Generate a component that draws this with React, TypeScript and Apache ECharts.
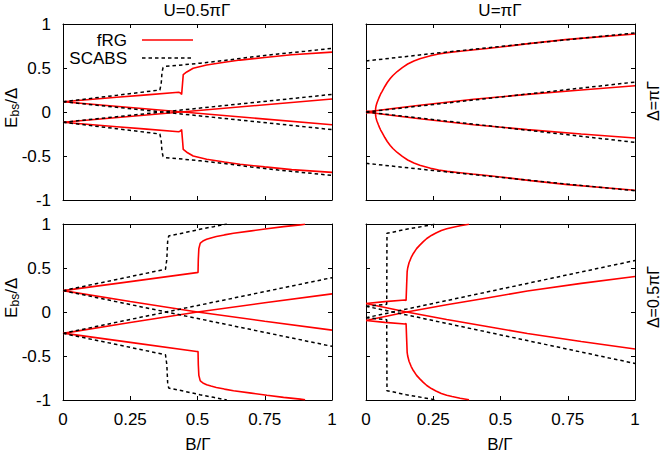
import React, { useEffect, useRef } from "react";
import * as echarts from "echarts";

type Pt = [number, number];

// ---- axes / labels ----
const xTicks = [0, 0.25, 0.5, 0.75, 1];
const yTicks = [-1, -0.5, 0, 0.5, 1];
const colTitles = ["U=0.5πΓ", "U=πΓ"];
const rowLabels = ["Δ=πΓ", "Δ=0.5πΓ"];
const legendNames = ["fRG", "SCABS"];

// ---- Panel A: U=0.5πΓ, Δ=πΓ ----
const A_fRG_outerUp: Pt[] = [[0,0.117],[0.1,0.142],[0.2,0.167],[0.3,0.192],[0.43,0.224],[0.437,0.215],[0.441,0.2],[0.444,0.31],[0.447,0.425],[0.46,0.455],[0.484,0.497],[0.534,0.534],[0.6,0.565],[0.658,0.59],[0.75,0.62],[0.85,0.65],[1,0.68]];
const A_fRG_outerLo: Pt[] = [[0,-0.117],[0.1,-0.142],[0.2,-0.167],[0.3,-0.192],[0.43,-0.224],[0.437,-0.215],[0.441,-0.2],[0.444,-0.31],[0.447,-0.425],[0.46,-0.457],[0.484,-0.5],[0.534,-0.537],[0.6,-0.568],[0.658,-0.593],[0.75,-0.624],[0.85,-0.655],[1,-0.686]];
const A_fRG_innerA: Pt[] = [[0,0.117],[1,-0.145]];
const A_fRG_innerB: Pt[] = [[0,-0.117],[1,0.148]];
const A_SCABS_outerUp: Pt[] = [[0,0.117],[0.2,0.19],[0.36,0.25],[0.365,0.32],[0.368,0.45],[0.372,0.505],[0.38,0.518],[0.45,0.537],[0.51,0.555],[0.6,0.585],[0.7,0.625],[0.8,0.66],[0.9,0.69],[1,0.723]];
const A_SCABS_outerLo: Pt[] = [[0,-0.117],[0.2,-0.19],[0.36,-0.25],[0.365,-0.32],[0.368,-0.45],[0.372,-0.505],[0.38,-0.518],[0.45,-0.537],[0.51,-0.555],[0.6,-0.585],[0.7,-0.625],[0.8,-0.66],[0.9,-0.69],[1,-0.72]];
const A_SCABS_innerA: Pt[] = [[0,0.117],[1,-0.2]];
const A_SCABS_innerB: Pt[] = [[0,-0.117],[1,0.2]];

// ---- Panel B: U=πΓ, Δ=πΓ ----
const B_fRG_outerUp: Pt[] = [[0,0.01],[0.035,0],[0.0355,0.025],[0.036,0.045],[0.037,0.062],[0.038,0.075],[0.04,0.096],[0.042,0.114],[0.046,0.145],[0.05,0.175],[0.0545,0.205],[0.06,0.235],[0.07,0.29],[0.079,0.335],[0.09,0.38],[0.1,0.415],[0.116,0.46],[0.135,0.505],[0.155,0.545],[0.178,0.58],[0.2,0.605],[0.24,0.64],[0.27,0.66],[0.302,0.675],[0.35,0.69],[0.395,0.705],[0.45,0.722],[0.5,0.738],[0.612,0.78],[0.75,0.825],[0.9,0.862],[1,0.886]];
const B_fRG_outerLo: Pt[] = [[0,-0.01],[0.035,0],[0.0355,-0.025],[0.036,-0.045],[0.037,-0.062],[0.038,-0.075],[0.04,-0.096],[0.042,-0.114],[0.046,-0.145],[0.05,-0.175],[0.0545,-0.205],[0.06,-0.235],[0.07,-0.29],[0.079,-0.335],[0.09,-0.38],[0.1,-0.415],[0.116,-0.46],[0.135,-0.505],[0.155,-0.545],[0.178,-0.58],[0.2,-0.605],[0.24,-0.64],[0.27,-0.66],[0.302,-0.675],[0.35,-0.69],[0.395,-0.705],[0.45,-0.722],[0.5,-0.738],[0.612,-0.78],[0.75,-0.825],[0.9,-0.864],[1,-0.89]];
const B_fRG_innerA: Pt[] = [[0,0],[0.1,0.04],[0.2,0.076],[0.4,0.145],[0.6,0.2],[0.8,0.25],[1,0.298]];
const B_fRG_innerB: Pt[] = [[0,0],[0.1,-0.04],[0.2,-0.076],[0.4,-0.145],[0.6,-0.2],[0.8,-0.25],[1,-0.296]];
const B_SCABS_outerUp: Pt[] = [[0,0.58],[0.25,0.665],[0.5,0.745],[0.75,0.822],[1,0.898]];
const B_SCABS_outerLo: Pt[] = [[0,-0.583],[0.25,-0.665],[0.5,-0.743],[0.75,-0.82],[1,-0.894]];
const B_SCABS_innerA: Pt[] = [[0,0],[1,0.34]];
const B_SCABS_innerB: Pt[] = [[0,0],[1,-0.345]];

// ---- Panel C: U=0.5πΓ, Δ=0.5πΓ ----
const C_fRG_outerUp: Pt[] = [[0,0.243],[0.25,0.345],[0.497,0.447],[0.502,0.45],[0.503,0.6],[0.505,0.72],[0.51,0.78],[0.515,0.795],[0.52,0.806],[0.534,0.826],[0.55,0.842],[0.57,0.857],[0.6,0.876],[0.634,0.894],[0.7,0.922],[0.758,0.946],[0.82,0.97],[0.882,0.99],[0.9,0.997]];
const C_fRG_outerLo: Pt[] = [[0,-0.24],[0.25,-0.345],[0.497,-0.448],[0.502,-0.45],[0.503,-0.6],[0.505,-0.72],[0.51,-0.78],[0.515,-0.795],[0.52,-0.806],[0.534,-0.826],[0.55,-0.842],[0.57,-0.857],[0.6,-0.876],[0.634,-0.894],[0.7,-0.922],[0.758,-0.946],[0.82,-0.97],[0.882,-0.99],[0.9,-0.997]];
const C_fRG_innerA: Pt[] = [[0,0.243],[0.25,0.12],[0.5,0.0],[0.75,-0.105],[1,-0.206]];
const C_fRG_innerB: Pt[] = [[0,-0.243],[0.25,-0.12],[0.5,0.0],[0.75,0.105],[1,0.206]];
const C_SCABS_outerUp: Pt[] = [[0,0.243],[0.2,0.37],[0.381,0.486],[0.386,0.6],[0.389,0.8],[0.393,0.864],[0.45,0.9],[0.509,0.94],[0.56,0.97],[0.609,1.0]];
const C_SCABS_outerLo: Pt[] = [[0,-0.243],[0.2,-0.37],[0.381,-0.486],[0.386,-0.6],[0.389,-0.8],[0.393,-0.864],[0.45,-0.9],[0.509,-0.94],[0.56,-0.97],[0.609,-1.0]];
const C_SCABS_innerA: Pt[] = [[0,0.243],[1,-0.39]];
const C_SCABS_innerB: Pt[] = [[0,-0.243],[1,0.39]];

// ---- Panel D: U=πΓ, Δ=0.5πΓ ----
const D_fRG_outerUp: Pt[] = [[0,0.097],[0.07,0.118],[0.145,0.136],[0.149,0.13],[0.151,0.3],[0.153,0.458],[0.155,0.5],[0.16,0.56],[0.168,0.62],[0.176,0.665],[0.188,0.72],[0.2,0.76],[0.213,0.8],[0.226,0.835],[0.243,0.87],[0.26,0.897],[0.28,0.925],[0.3,0.945],[0.32,0.96],[0.35,0.98],[0.383,0.997]];
const D_fRG_outerLo: Pt[] = [[0,-0.097],[0.07,-0.118],[0.145,-0.136],[0.149,-0.13],[0.151,-0.3],[0.153,-0.458],[0.155,-0.5],[0.16,-0.56],[0.168,-0.62],[0.176,-0.665],[0.188,-0.72],[0.2,-0.76],[0.213,-0.8],[0.226,-0.835],[0.243,-0.87],[0.26,-0.897],[0.28,-0.925],[0.3,-0.945],[0.32,-0.96],[0.35,-0.98],[0.383,-0.997]];
const D_fRG_innerA: Pt[] = [[0,0.097],[0.151,0],[0.3,-0.085],[0.45,-0.165],[0.6,-0.245],[0.8,-0.335],[1,-0.42]];
const D_fRG_innerB: Pt[] = [[0,-0.097],[0.151,0],[0.3,0.083],[0.45,0.16],[0.6,0.238],[0.8,0.325],[1,0.403]];
const D_SCABS_outerUp: Pt[] = [[0,0.065],[0.077,0.088],[0.0775,0.5],[0.078,0.894],[0.15,0.94],[0.244,0.99],[0.26,1.0]];
const D_SCABS_outerLo: Pt[] = [[0,-0.065],[0.077,-0.088],[0.0775,-0.5],[0.078,-0.894],[0.15,-0.94],[0.244,-0.99],[0.26,-1.0]];
const D_SCABS_innerA: Pt[] = [[0,-0.065],[1,0.585]];
const D_SCABS_innerB: Pt[] = [[0,0.065],[1,-0.585]];

const panels = [
  { frg: [A_fRG_outerUp, A_fRG_outerLo, A_fRG_innerA, A_fRG_innerB], scabs: [A_SCABS_outerUp, A_SCABS_outerLo, A_SCABS_innerA, A_SCABS_innerB] },
  { frg: [B_fRG_outerUp, B_fRG_outerLo, B_fRG_innerA, B_fRG_innerB], scabs: [B_SCABS_outerUp, B_SCABS_outerLo, B_SCABS_innerA, B_SCABS_innerB] },
  { frg: [C_fRG_outerUp, C_fRG_outerLo, C_fRG_innerA, C_fRG_innerB], scabs: [C_SCABS_outerUp, C_SCABS_outerLo, C_SCABS_innerA, C_SCABS_innerB] },
  { frg: [D_fRG_outerUp, D_fRG_outerLo, D_fRG_innerA, D_fRG_innerB], scabs: [D_SCABS_outerUp, D_SCABS_outerLo, D_SCABS_innerA, D_SCABS_innerB] },
];

const FONT = "Liberation Sans";
const RED = "#ff0000";
const GRID_POS = [
  { left: 63, top: 24 },
  { left: 366, top: 24 },
  { left: 63, top: 224 },
  { left: 366, top: 224 },
];
const GW = 269;
const GH = 176;
const TICK_FS = 17;

function buildOption() {
  const grid = GRID_POS.map((g) => ({
    left: g.left, top: g.top, width: GW, height: GH,
    containLabel: false, outerBoundsMode: "none", show: false,
  }));
  const axLine = { show: true, onZero: false, lineStyle: { color: "#000", width: 1 } };
  const tick = { show: true, inside: true, length: 4, lineStyle: { color: "#000", width: 1 } };
  const xAxis: any[] = [];
  const yAxis: any[] = [];
  GRID_POS.forEach((_, i) => {
    const bottomRow = i >= 2;
    const leftCol = i % 2 === 0;
    xAxis.push({
      type: "value", gridIndex: i, position: "bottom",
      min: xTicks[0], max: xTicks[xTicks.length - 1], interval: 0.25,
      axisLine: axLine, axisTick: tick, splitLine: { show: false },
      axisLabel: { show: bottomRow, color: "#000", fontSize: TICK_FS, fontFamily: FONT, margin: 11 },
    });
    xAxis.push({
      type: "value", gridIndex: i, position: "top",
      min: xTicks[0], max: xTicks[xTicks.length - 1], interval: 0.25,
      axisLine: axLine, axisTick: tick, splitLine: { show: false }, axisLabel: { show: false },
    });
    yAxis.push({
      type: "value", gridIndex: i, position: "left",
      min: yTicks[0], max: yTicks[yTicks.length - 1], interval: 0.5,
      axisLine: axLine, axisTick: tick, splitLine: { show: false },
      axisLabel: { show: leftCol, color: "#000", fontSize: TICK_FS, fontFamily: FONT, margin: 12 },
    });
    yAxis.push({
      type: "value", gridIndex: i, position: "right",
      min: yTicks[0], max: yTicks[yTicks.length - 1], interval: 0.5,
      axisLine: axLine, axisTick: tick, splitLine: { show: false }, axisLabel: { show: false },
    });
  });

  const series: any[] = [];
  panels.forEach((p, i) => {
    p.frg.forEach((d) => {
      series.push({
        type: "line", name: legendNames[0], xAxisIndex: 2 * i, yAxisIndex: 2 * i,
        data: d, showSymbol: false, symbol: "none", clip: true, z: 2,
        lineStyle: { color: RED, width: 1.6 },
      });
    });
    p.scabs.forEach((d) => {
      series.push({
        type: "line", name: legendNames[1], xAxisIndex: 2 * i, yAxisIndex: 2 * i,
        data: d, showSymbol: false, symbol: "none", clip: true, z: 3,
        lineStyle: { color: "#000", width: 1.5, type: [3.5, 3] },
      });
    });
  });

  const txt = (x: number, y: number, s: string, fs: number, align = "center") => ({
    type: "text", x, y, silent: true,
    style: { text: s, fontSize: fs, fontFamily: FONT, fill: "#000", textAlign: align, textVerticalAlign: "middle" },
  });

  const ebsLabel = (cy: number) => ({
    type: "group", x: 11, y: cy, rotation: Math.PI / 2, silent: true,
    children: [
      { type: "text", x: -20, y: 0, style: { text: "E", fontSize: 17, fontFamily: FONT, fill: "#000", textAlign: "left", textVerticalAlign: "middle" } },
      { type: "text", x: -8.5, y: 4, style: { text: "bs", fontSize: 12, fontFamily: FONT, fill: "#000", textAlign: "left", textVerticalAlign: "middle" } },
      { type: "text", x: 4.3, y: 0, style: { text: "/Δ", fontSize: 17, fontFamily: FONT, fill: "#000", textAlign: "left", textVerticalAlign: "middle" } },
    ],
  });

  const rotLabel = (x: number, cy: number, s: string) => ({
    type: "group", x, y: cy, rotation: Math.PI / 2, silent: true,
    children: [
      { type: "text", x: 0, y: 0, style: { text: s, fontSize: 16, fontFamily: FONT, fill: "#000", textAlign: "center", textVerticalAlign: "middle" } },
    ],
  });

  const graphic: any[] = [
    txt(197, 10, colTitles[0], 17),
    txt(500, 10, colTitles[1], 17),
    ebsLabel(108),
    ebsLabel(298),
    rotLabel(653, 101, rowLabels[0]),
    rotLabel(653, 297, rowLabels[1]),
    txt(198, 444, "B/Γ", 17),
    txt(500, 444, "B/Γ", 17),
    // legend
    txt(127, 40, legendNames[0], 17, "right"),
    txt(127, 58, legendNames[1], 17, "right"),
    { type: "line", silent: true, z: 10, shape: { x1: 142, y1: 40, x2: 193, y2: 40 }, style: { stroke: RED, lineWidth: 1.6 } },
    { type: "line", silent: true, z: 10, shape: { x1: 142, y1: 58, x2: 193, y2: 58 }, style: { stroke: "#000", lineWidth: 1.5, lineDash: [3.5, 3] } },
  ];

  return {
    animation: false,
    backgroundColor: "#fff",
    textStyle: { fontFamily: FONT },
    grid, xAxis, yAxis, series, graphic,
  };
}

export default function App() {
  const ref = useRef<HTMLDivElement>(null);
  useEffect(() => {
    if (!ref.current) return;
    const chart = echarts.init(ref.current, undefined, { renderer: "svg" });
    chart.setOption(buildOption() as any);
    return () => chart.dispose();
  }, []);
  return (
    <div
      ref={ref}
      style={{ position: "fixed", left: 0, top: 0, width: 664, height: 455, background: "#fff" }}
    />
  );
}
